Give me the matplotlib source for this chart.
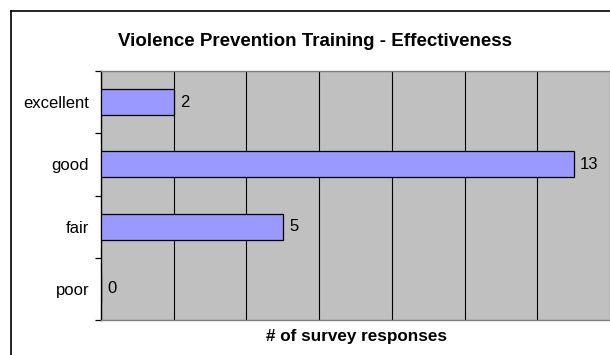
import matplotlib
matplotlib.use("Agg")
import matplotlib.pyplot as plt
from matplotlib.lines import Line2D

categories = ["excellent", "good", "fair", "poor"]
responses = [2, 13, 5, 0]
title = "Violence Prevention Training - Effectiveness"
xlabel = "# of survey responses"

plt.rcParams["font.family"] = ["Liberation Sans", "DejaVu Sans"]

W, H = 610, 355
fig = plt.figure(figsize=(W / 100, H / 100), dpi=100)
fig.patch.set_facecolor("white")

# plot area in pixel coordinates
left, right, top, bottom = 101, 610, 71, 320
ax = fig.add_axes([left / W, 1 - bottom / H, (right - left) / W, (bottom - top) / H])
ax.set_facecolor("#C0C0C0")

ypos = list(range(len(categories) - 1, -1, -1))
ax.barh(ypos, responses, height=0.42, color="#9999FF", edgecolor="black", linewidth=0.9, zorder=3)

for y, v in zip(ypos, responses):
    ax.text(v + 0.17, y, str(v), va="center", ha="left", fontsize=12, color="black", zorder=4)

ax.set_xlim(0, 14)
ax.set_ylim(-0.5, len(categories) - 0.5)

# vertical gridlines
ax.set_xticks(range(0, 15, 2))
ax.xaxis.grid(True, color="black", linewidth=0.8, zorder=1)
ax.set_axisbelow(True)
ax.tick_params(axis="x", length=0, labelbottom=False)

ax.set_yticks(ypos)
ax.set_yticklabels(categories, fontsize=12)
ax.tick_params(axis="y", which="major", length=0, pad=8.6)
ax.set_yticks([i - 0.5 for i in range(len(categories) + 1)], minor=True)
ax.tick_params(axis="y", which="minor", length=4, width=0.9, color="black", direction="out")

for s in ["top", "bottom"]:
    ax.spines[s].set_color("#808080")
    ax.spines[s].set_linewidth(1.0)
ax.spines["right"].set_visible(False)
ax.spines["left"].set_color("black")
ax.spines["left"].set_linewidth(1.0)

fig.text(315 / W, 1 - 41 / H, title, ha="center", va="center", fontsize=13.5, fontweight="bold")
fig.text(356 / W, 1 - 336 / H, xlabel, ha="center", va="center", fontsize=12.3, fontweight="bold")

# chart frame
fig.add_artist(Line2D([11 / W, 11 / W], [0, 1 - 11 / H], transform=fig.transFigure, color="black", linewidth=1.2))
fig.add_artist(Line2D([11 / W, 1], [1 - 11 / H, 1 - 11 / H], transform=fig.transFigure, color="black", linewidth=1.2))

fig.savefig("out.png", dpi=100)
